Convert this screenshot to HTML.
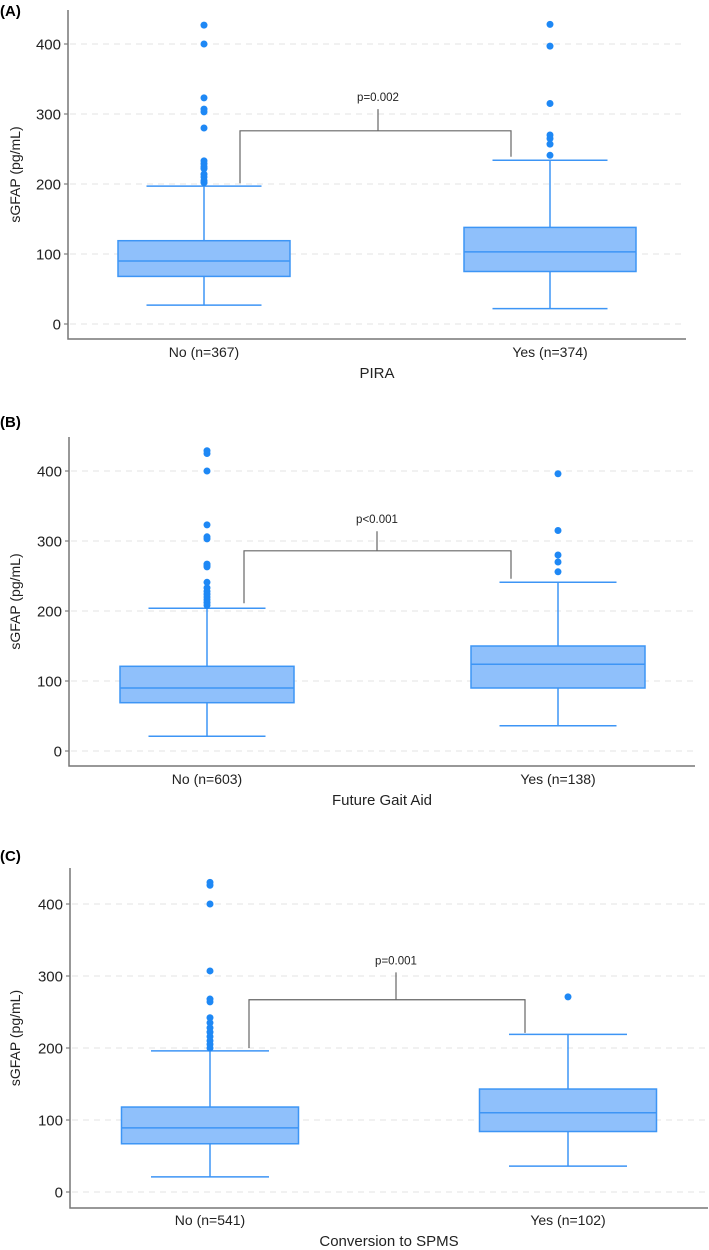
<!DOCTYPE html>
<html><head><meta charset="utf-8"><style>
body{margin:0;background:#fff;width:709px;height:1250px;overflow:hidden}
svg{display:block;font-family:"Liberation Sans",Arial,sans-serif}
</style></head><body>
<svg id="chart" width="709" height="1250" viewBox="0 0 709 1250"></svg>
<script>
const categoriesA = ["No (n=367)", "Yes (n=374)"];
const statsA = [[27,68,90,119,197],[22,75,103,138,234]];
const outliersA = [[427,400,323,307,303,280,233,229,225,222,214,210,205,202],[428,397,315,270,265,257,241]];
const bracketA = [201,239,276,307]; const pA = "p=0.002"; const titleA = "PIRA";

const categoriesB = ["No (n=603)", "Yes (n=138)"];
const statsB = [[21,69,90,121,204],[36,90,124,150,241]];
const outliersB = [[429,425,400,323,306,303,267,265,263,241,233,228,224,220,216,212,208],[396,315,280,270,256]];
const bracketB = [211,246,286,314]; const pB = "p<0.001"; const titleB = "Future Gait Aid";

const categoriesC = ["No (n=541)", "Yes (n=102)"];
const statsC = [[21,67,89,118,196],[36,84,110,143,219]];
const outliersC = [[430,426,400,307,268,264,242,235,228,222,216,210,205,200],[271]];
const bracketC = [200,221,267,305]; const pC = "p=0.001"; const titleC = "Conversion to SPMS";

const yTicks = [0,100,200,300,400];

const NS="http://www.w3.org/2000/svg";
const svg=document.getElementById('chart');
function mk(tag,attrs,parent){const e=document.createElementNS(NS,tag);for(const k in attrs)e.setAttribute(k,attrs[k]);(parent||svg).appendChild(e);return e;}

const panels=[
 {id:'a',label:'(A)',labelY:16,L:68,R:686,T:10,B:339,y0:324,ppu:0.70,cx:[204,550],bh:86,ch:57.5,cat:categoriesA,st:statsA,out:outliersA,br:bracketA,p:pA,title:titleA,catY:357,titleY:378,brX:[240,511],midX:378},
 {id:'b',label:'(B)',labelY:427,L:69,R:695,T:437,B:766,y0:751,ppu:0.70,cx:[207,558],bh:87,ch:58.5,cat:categoriesB,st:statsB,out:outliersB,br:bracketB,p:pB,title:titleB,catY:784,titleY:805,brX:[244,511],midX:377},
 {id:'c',label:'(C)',labelY:861,L:70,R:708,T:868,B:1208,y0:1192,ppu:0.72,cx:[210,568],bh:88.5,ch:59,cat:categoriesC,st:statsC,out:outliersC,br:bracketC,p:pC,title:titleC,catY:1225,titleY:1246,brX:[249,525],midX:396}
];

panels.forEach(P=>{
  const g=mk('g',{});
  
  
  const y=v=>P.y0-v*P.ppu;
  const pl=mk('text',{x:0,y:P.labelY,'font-size':15,'font-weight':'bold',fill:'#000'},g);pl.textContent=P.label;
  
  
  yTicks.forEach(t=>{
    const gl=mk('line',{x1:P.L+2,x2:P.R,y1:y(t),y2:y(t),stroke:'#e3e3e3','stroke-width':1,'stroke-dasharray':'6,5'},g);
    
    
    const tk=mk('line',{x1:P.L-4,x2:P.L,y1:y(t),y2:y(t),stroke:'#666'},g);
    
    
    const tl=mk('text',{x:P.L-7,y:y(t)+5.5,'font-size':15,'text-anchor':'end',fill:'#222'},g);tl.textContent=t;
    
    
  });
  const ax=mk('path',{d:`M${P.L},${P.T}V${P.B}H${P.R}`,fill:'none',stroke:'#777','stroke-width':1.5},g);
  
  
  const yt=mk('text',{transform:`translate(20,${(P.T+P.B)/2}) rotate(-90)`,'font-size':14,'text-anchor':'middle',fill:'#222'},g);yt.textContent='sGFAP (pg/mL)';
  
  
  P.st.forEach((s,i)=>{
    const cx=P.cx[i];
    const bg=mk('g',{},g);
    
    
    const c='#3d95f5';
    mk('line',{x1:cx,x2:cx,y1:y(s[0]),y2:y(s[1]),stroke:c,'stroke-width':1.5},bg);
    mk('line',{x1:cx,x2:cx,y1:y(s[3]),y2:y(s[4]),stroke:c,'stroke-width':1.5},bg);
    mk('line',{x1:cx-P.ch,x2:cx+P.ch,y1:y(s[0]),y2:y(s[0]),stroke:c,'stroke-width':1.5},bg);
    mk('line',{x1:cx-P.ch,x2:cx+P.ch,y1:y(s[4]),y2:y(s[4]),stroke:c,'stroke-width':1.5},bg);
    mk('rect',{x:cx-P.bh,y:y(s[3]),width:2*P.bh,height:y(s[1])-y(s[3]),fill:'#8fc0fb',stroke:c,'stroke-width':1.5},bg);
    mk('line',{x1:cx-P.bh,x2:cx+P.bh,y1:y(s[2]),y2:y(s[2]),stroke:c,'stroke-width':1.5},bg);
    P.out[i].forEach(v=>{
      const d=mk('circle',{cx:cx,cy:y(v),r:3.5,fill:'#1e88f5'},bg);
      
      
    });
    const cl=mk('text',{x:cx,y:P.catY,'font-size':14,'text-anchor':'middle',fill:'#222'},g);cl.textContent=P.cat[i];
    
    
  });
  const br=P.br;
  const bp=mk('path',{d:`M${P.brX[0]},${y(br[0])}V${y(br[2])}H${P.brX[1]}V${y(br[1])}M${P.midX},${y(br[2])}V${y(br[3])}`,fill:'none',stroke:'#666','stroke-width':1.2},g);
  
  
  const pt=mk('text',{x:P.midX,y:y(br[3])-8,'font-size':11.5,'text-anchor':'middle',fill:'#222'},g);pt.textContent=P.p;
  
  
  const xt=mk('text',{x:(P.L+P.R)/2,y:P.titleY,'font-size':15,'text-anchor':'middle',fill:'#222'},g);xt.textContent=P.title;
  
  
});
</script>
</body></html>
